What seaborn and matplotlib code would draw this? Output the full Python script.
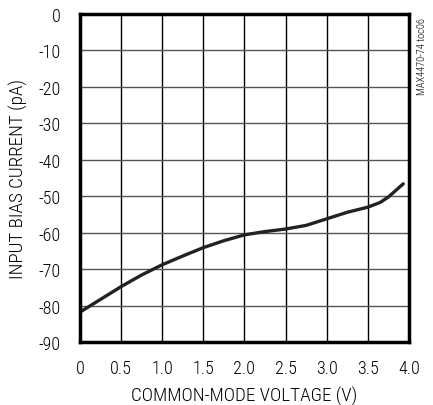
import matplotlib
matplotlib.use("Agg")
import matplotlib.pyplot as plt
import seaborn as sns
import pandas as pd
from matplotlib import font_manager

voltage = [0.0, 0.25, 0.5, 0.75, 1.0, 1.25, 1.5, 1.75, 2.0, 2.25, 2.5, 2.75, 3.0, 3.25, 3.5, 3.65, 3.75, 3.85, 3.93]
current = [-81.8, -78.3, -74.8, -71.6, -68.8, -66.4, -64.1, -62.2, -60.6, -59.7, -59.0, -58.0, -56.2, -54.4, -53.0, -51.7, -50.2, -48.2, -46.6]
x_ticks = [0, 0.5, 1.0, 1.5, 2.0, 2.5, 3.0, 3.5, 4.0]
x_labels = ["0", "0.5", "1.0", "1.5", "2.0", "2.5", "3.0", "3.5", "4.0"]
y_ticks = [0, -10, -20, -30, -40, -50, -60, -70, -80, -90]
y_labels = ["0", "-10", "-20", "-30", "-40", "-50", "-60", "-70", "-80", "-90"]

sns.set_theme(style="white")
names = {f.name for f in font_manager.fontManager.ttflist}
fam = "Liberation Sans"
for cand in ["Roboto Condensed", "Archivo Narrow"]:
    if cand in names:
        fam = cand
        break
plt.rcParams['font.family'] = [fam, 'DejaVu Sans']
plt.rcParams['font.weight'] = 300
plt.rcParams['axes.labelweight'] = 300

df = pd.DataFrame({"v": voltage, "i": current})
fig = plt.figure(figsize=(4.33, 4.06), dpi=100)
ax = fig.add_axes([80/433, 1-343/406, 329/433, 328/406])
sns.lineplot(data=df, x="v", y="i", ax=ax, color="#222222", linewidth=2.4)
ax.set_xlim(0, 4)
ax.set_ylim(-90, 0)
ax.set_xticks(x_ticks)
ax.set_xticklabels(x_labels)
ax.set_yticks(y_ticks)
ax.set_yticklabels(y_labels)
for t in x_ticks[1:-1]:
    ax.axvline(t, color="black", linewidth=1.0, zorder=0)
for t in y_ticks[1:-1]:
    ax.axhline(t, color="#555555", linewidth=1.0, zorder=0)
for s in ax.spines.values():
    s.set_color("black")
    s.set_linewidth(2.5)
ax.tick_params(axis="both", length=0, labelsize=13, colors="black")
ax.tick_params(axis="x", pad=12)
ax.tick_params(axis="y", pad=14)
ax.set_xlabel("COMMON-MODE VOLTAGE (V)", fontsize=13.8, color="black", labelpad=7, fontweight=300)
ax.set_ylabel("INPUT BIAS CURRENT (pA)", fontsize=13.8, color="black", labelpad=7, fontweight=300)
fig.text(422/433, 1-57/406, "MAX4470-74 toc06", rotation=90, fontsize=7.5, ha="center", va="center", color="black", fontweight=300)
fig.savefig("out.png", dpi=100)
